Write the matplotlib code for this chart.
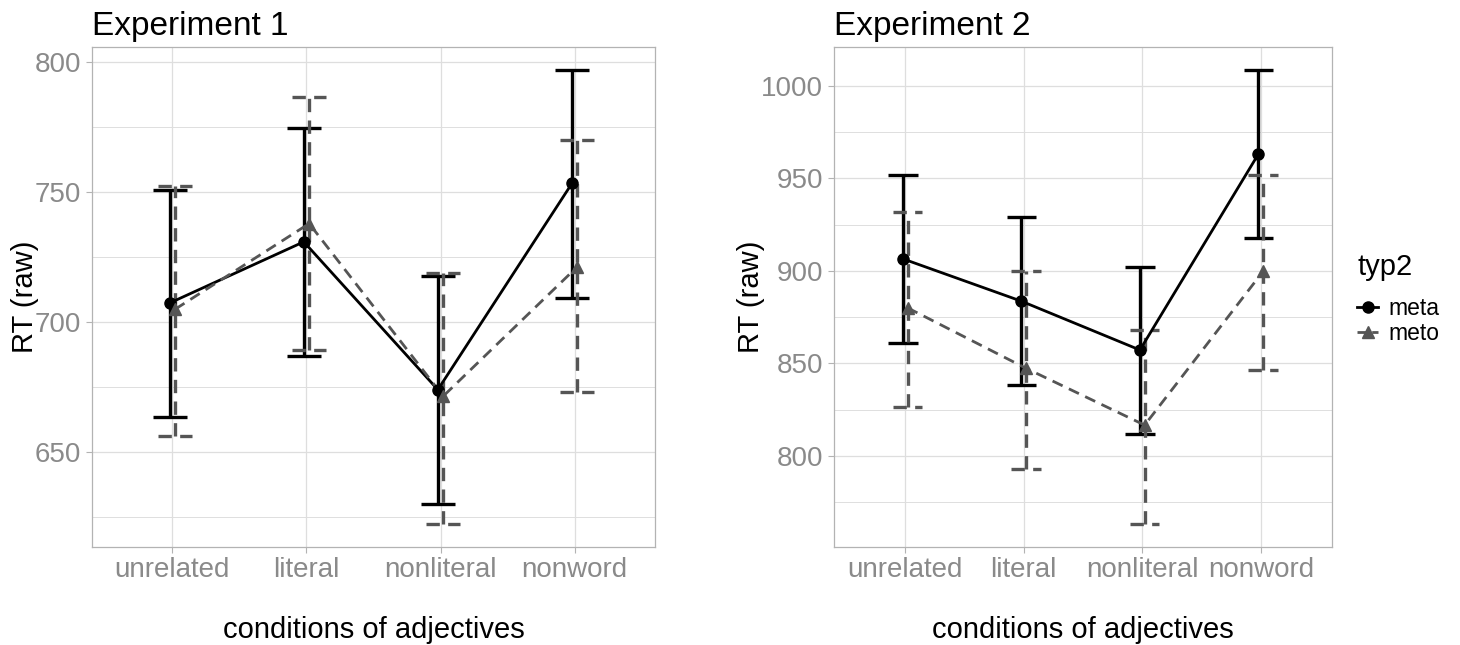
import numpy as np
import matplotlib
matplotlib.use('Agg')
import matplotlib.pyplot as plt
from matplotlib.lines import Line2D

plt.rcParams['font.family'] = ['Liberation Sans', 'DejaVu Sans']

conditions = ['unrelated', 'literal', 'nonliteral', 'nonword']
groups = ['meta', 'meto']

# Experiment 1
exp1_mean = {'meta': [707.3, 730.8, 674.0, 753.2],
             'meto': [704.9, 737.8, 671.5, 721.2]}
exp1_lo = {'meta': [663.5, 687.1, 630.0, 709.4],
           'meto': [656.2, 689.2, 622.3, 673.1]}
exp1_hi = {'meta': [750.6, 774.6, 717.7, 796.9],
           'meto': [752.4, 786.5, 718.8, 770.0]}

# Experiment 2
exp2_mean = {'meta': [906.5, 883.6, 857.2, 963.2],
             'meto': [880.0, 847.3, 816.6, 899.8]}
exp2_lo = {'meta': [861.0, 838.3, 811.7, 917.7],
           'meto': [826.2, 793.1, 763.0, 846.4]}
exp2_hi = {'meta': [951.8, 929.1, 902.3, 1008.7],
           'meto': [931.8, 899.8, 868.1, 951.8]}

W, H = 1460, 645
fig = plt.figure(figsize=(W/100, H/100), dpi=100)

style = {'meta': dict(color='black', ls='-', marker='o', dashes=None),
         'meto': dict(color='#555555', ls='--', marker='^', dashes=(4, 2.5))}
dodge = {'meta': -0.02, 'meto': 0.02}
capw = 0.125
tick_col = '#8a8a8a'


def panel(rect, title, mean, lo, hi, yticks):
    ax = fig.add_axes([rect[0]/W, (H-rect[3])/H, (rect[2]-rect[0])/W, (rect[3]-rect[1])/H])
    xs = np.arange(1, len(conditions)+1)
    for g in groups:
        s = style[g]
        x = xs + dodge[g]
        kw = dict(color=s['color'], linewidth=2.4)
        if s['dashes']:
            kw['linestyles'] = [(0, s['dashes'])]
        ax.vlines(x, lo[g], hi[g], **kw, zorder=3)
        ax.hlines(lo[g], x-capw, x+capw, **kw, zorder=3)
        ax.hlines(hi[g], x-capw, x+capw, **kw, zorder=3)
        lkw = dict(color=s['color'], linewidth=2.0, zorder=4)
        if s['dashes']:
            lkw['dashes'] = s['dashes']
        ax.plot(x, mean[g], **lkw)
        ax.plot(x, mean[g], ls='none', marker=s['marker'], color=s['color'],
                markersize=8, zorder=5)
    ax.set_xticks(xs)
    ax.set_xticklabels(conditions)
    ax.set_yticks(yticks)
    ax.set_yticks([t + 25 for t in [yticks[0]-50] + yticks], minor=True)
    allv = np.concatenate([np.array(lo[g]) for g in groups] + [np.array(hi[g]) for g in groups])
    r = allv.max() - allv.min()
    ax.set_ylim(allv.min() - 0.05*r, allv.max() + 0.05*r)
    ax.set_xlim(0.4, len(conditions)+0.6)
    ax.tick_params(axis='both', which='major', colors='#b3b3b3', labelcolor=tick_col,
                   labelsize=20, length=4, width=0.8, pad=4)
    ax.tick_params(axis='x', which='major', pad=3)
    ax.tick_params(axis='both', which='minor', length=0)
    ax.grid(True, which='major', color='#dedede', linewidth=0.9)
    ax.grid(True, which='minor', color='#dedede', linewidth=0.7)
    ax.set_axisbelow(True)
    for sp in ax.spines.values():
        sp.set_color('#b3b3b3')
        sp.set_linewidth(0.9)
    ax.set_title(title, loc='left', fontsize=24, pad=9)
    ax.set_xlabel('conditions of adjectives', fontsize=21, labelpad=24)
    ax.set_ylabel('RT (raw)', fontsize=21, labelpad=-3)
    return ax


panel((92, 47, 655, 547), 'Experiment 1', exp1_mean, exp1_lo, exp1_hi, [650, 700, 750, 800])
panel((834, 47, 1332, 547), 'Experiment 2', exp2_mean, exp2_lo, exp2_hi, [800, 850, 900, 950, 1000])

handles = [Line2D([], [], color=style[g]['color'], marker=style[g]['marker'], markersize=8,
                  linewidth=2.0, ls=style[g]['ls']) for g in groups]
leg = fig.legend(handles, groups, title='typ2', loc='upper left',
                 bbox_to_anchor=(1346/W, 1 - 242/H), frameon=False, fontsize=16.5,
                 title_fontsize=21, handlelength=0.9, handletextpad=0.45, labelspacing=0.1,
                 borderpad=0)
leg._legend_box.align = 'left'
leg._legend_box.sep = 11

fig.savefig('out.png', dpi=100)
